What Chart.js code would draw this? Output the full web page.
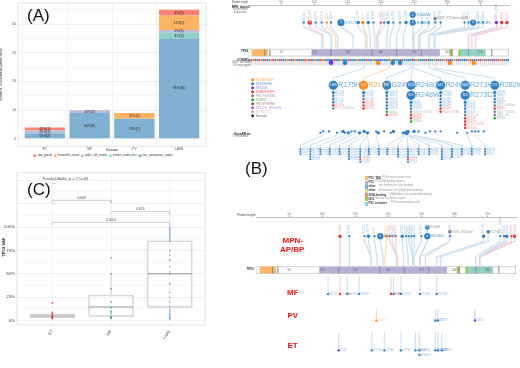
<!DOCTYPE html>
<html>
<head>
<meta charset="utf-8">
<script src="https://cdn.jsdelivr.net/npm/chart.js@4/dist/chart.umd.min.js"></script>
<style>
  html, body { margin: 0; padding: 0; background: #fff; }
  #page { position: relative; width: 520px; height: 368px; overflow: hidden; font-family: "Liberation Sans", Arial, sans-serif; }
  #page canvas { position: absolute; }
  .note { position: absolute; white-space: nowrap; line-height: 1; }
</style>
</head>
<body>
<div id="page"></div>
<script>
// (A) patient counts per disease
const diseases = ['ET', 'MF', 'PV', 't-AML'];
const mutationKinds = ['non_synonymous_codon', 'initiator_codon_loss', 'splice_site_variant', 'frameshift_variant', 'stop_gained'];
const nonSynCounts = [2, 9, 7, 35];
const initiatorCounts = [0, 0, 0, 2];
const spliceCounts = [1, 1, 0, 1];
const frameshiftCounts = [0, 0, 2, 5];
const stopCounts = [1, 0, 0, 2];

// (C) VAF boxplot
const boxQ1 = [3.6, 5, 14.6];
const boxMedian = [5, 14.6, 50];
const boxQ3 = [6.8, 26.7, 84.7];
const boxWhiskerHigh = [9, 50, 100];
const boxWhiskerLow = [2, 3, 2];
const etVaf = [19, 9, 7, 5, 5, 4, 4, 3, 3, 2];
const mfVaf = [67, 50, 34, 20, 14, 10, 8, 5, 3, 3, 3];
const amlVaf = [100, 98, 96, 94, 92, 90, 88, 86, 85, 75, 70, 65, 64, 58, 52, 50, 40, 39, 30, 25, 20, 15, 12, 10, 8, 6, 5, 4, 3, 2, 2];
const bracketFrom = [1, 2, 1];
const bracketTo = [2, 3, 3];
const bracketLevel = [128.5, 116.4, 105];
const bracketP = ['0.049', '0.016', '0.0001'];

// (B) upper track, residue numbers
const topShown = [84, 93, 102, 111, 119, 125, 140, 166, 173, 181, 189, 200, 205, 211, 219, 229, 238, 248, 248, 262, 272, 282, 282, 290, 326, 332, 339, 347, 354, 374, 382, 390];
const topTrue = [111, 113, 125, 126, 132, 135, 158, 177, 179, 184, 191, 194, 196, 209, 214, 224, 234, 248, 248, 250, 257, 258, 259, 273, 273, 273, 273, 280, 282, 332, 337, 343];
const topKinds = 'MFMMNMMMNMMFMMMMMMMMMGMMMMMMMSFF';
const topCounts = [1, 3, 1, 1, 1, 1, 5, 2, 2, 2, 1, 1, 1, 2, 1, 1, 2, 4, 4, 1, 1, 2, 1, 1, 1, 1, 4, 1, 1, 2, 2, 2];
const topLevels = [0, 0, 0, 0, 0, 0, 0, 0, 0, 0, 0, 0, 0, 0, 0, 0, 0, 0, 2, 0, 0, 1, 0, 0, 0, 0, 0, 0, 0, 0, 0, 0];
const topNames = ['R110L', 'C135fs', 'K132N', 'K132E', 'Q136*', 'C135Y', 'V157F', 'H179R', 'R196*', 'Y205C', 'H193R', 'L194fs', 'I195fs', 'Y220C', 'G199E', 'S241F', 'C238Y', 'R248Q', 'R248W', 'G245S', 'N247I', 'R248_P250delinsRMR', 'R249S', 'V272M', 'R273C', 'R273L', 'R273H', 'R280K', 'E285K', 'X307_splice', 'R306*', 'R337C'];

const cosmicSites = [2, 5, 8, 11, 14, 17, 20, 23, 26, 29, 32, 35, 38, 41, 44, 47, 50, 53, 56, 59, 62, 65, 68, 71, 74, 77, 80, 83, 86, 89, 92, 95, 98, 101, 104, 107, 110, 113, 116, 119, 122, 125, 128, 131, 134, 137, 140, 143, 146, 149, 152, 155, 158, 161, 164, 167, 170, 173, 176, 179, 182, 185, 188, 191, 194, 197, 200, 203, 206, 209, 212, 215, 218, 221, 224, 227, 230, 233, 236, 239, 242, 245, 248, 251, 254, 257, 260, 263, 266, 269, 272, 275, 278, 281, 284, 287, 290, 293, 296, 299, 302, 305, 308, 311, 314, 317, 320, 323, 326, 329, 332, 335, 338, 341, 344, 347, 350, 353, 356, 359, 362, 365, 368, 371, 374, 377, 380, 383, 386, 389, 392];
const cosmicKinds = 'FMNFMFNMFMMNFMNMFMMNMFMNMFMMFNMFMNMMFNMMMSMFMMNMMMFMMMNMMMMFMMNMMMSMMMMNMMMMFMMMMMFMNMMMMFMMMNMFMMNFMSMNMFMMSMNFMGMFSNMFMGSFMFNF';
const cosmicHaloSites = [125, 146, 196, 218, 229, 304, 340];
const cosmicHaloKinds = 'SMNMMNN';

const hotNames = ['R175H', 'R213*', 'G245S', 'R248Q', 'R249S', 'R273H', 'R282W'];
const hotShown = [128.5, 174, 209, 245.5, 290, 327, 371.5];
const hotTrue = [175, 213, 245, 248, 249, 273, 282];
const hotCounts = [1489, 922, 802, 1653, 832, 1663, 772];
const secondNames = ['R248W', 'R273C'];
const secondShown = [245.5, 327];
const secondCounts = [829, 829];
const hotLists = [
  ['R175G', 'R175C', 'R175L', 'R175P', 'R175fs', 'R175_E180del'],
  ['R213Q', 'R213L', 'R213G', 'R213fs', 'R213fs', 'R213fs'],
  ['G245D', 'G245C', 'G245V', 'G245R', 'G245A', 'G245E', 'G245=', 'G245fs'],
  ['R248L', 'R248G', 'R248P', 'R248_P250del', 'R248fs', 'R248fs', 'R248='],
  ['R249G', 'R249M', 'R249T', 'R249W', 'R249K', 'R249fs', 'R249_T253fs'],
  ['R273L', 'R273P', 'R273G', 'R273S', 'R273_del', 'R273fs', 'R273fs', 'R273_C275fs', 'R273fs'],
  ['R282G', 'R282Q', 'R282L', 'R282P', 'R282_E285del', 'R282fs', 'R282_T284del', 'R282_del', 'R282=']
];

const oncoSites = [109, 113, 122, 134, 143, 146, 151, 156, 161, 168, 175, 180, 193, 196, 205, 215, 219, 234, 239, 241, 250, 257, 267, 274, 282, 290, 315, 330, 337, 342, 347, 355];
const oncoSizes = [1, 1, 1, 1, 2, 1, 2, 1, 1, 2, 2, 2, 1, 2, 1, 1, 2, 2, 3, 2, 2, 1, 1, 1, 1, 1, 1, 1, 1, 1, 1, 1];
const oncoLevels = [0, 1, 1, 0, 1, 0, 0, 1, 1, 0, 1, 0, 1, 0, 1, 0, 1, 0, 0, 1, 1, 1, 0, 1, 1, 1, 0, 0, 1, 1, 1, 1];
const columnNames = ['P72', 'R110', 'K132', 'C141', 'P151', 'R158', 'Y163', 'R175', 'H179', 'Y205', 'Y220', 'S241', 'G245', 'R248', 'R273', 'R282', 'E286', 'K320', 'R337'];
const columnShown = [79, 94, 109, 123, 138, 152, 169, 182, 197, 210, 226, 241, 257, 273, 292, 307, 322, 337, 357];
const columnTrue = [113, 134, 146, 156, 168, 175, 180, 180, 193, 234, 236, 239, 241, 241, 241, 250, 250, 330, 342];
const columnRows = [3, 5, 3, 3, 3, 5, 6, 3, 3, 3, 4, 6, 3, 3, 5, 4, 3, 3, 3];
const legendKinds = ['NONSENSE', 'MISSENSE', 'SPLICE', 'FRAMESHIFT', 'PROTEINDEL', 'SILENT', 'PROTEININS', 'SPLICE_REGION', 'INTRONIC', 'Somatic'];
const legendCodes = 'NMSFGVBRIK';

// (B) protein domains
const domainStart = [6, 96, 176, 238, 272, 304, 317, 319];
const domainEnd = [29, 288, 181, 242, 277, 307, 319, 357];
const domainColors = ['#f9b767', '#b6b0d6', '#c8dc8c', '#e98a80', '#e98a80', '#9ccb4f', '#9ccb4f', '#8fd2c1'];
const exonEdges = [25, 33, 125, 187, 224, 261, 307, 332, 367];
const rulerTicks = [50, 100, 150, 200, 250, 300, 350];
const bLegendNames = ['P53_TAD', 'P53', 'other', 'other', 'DNA-binding', 'NLS', 'P53_tetramer'];
const bLegendColors = ['#f9b767', '#b6b0d6', '#7fb0dc', '#dcdc9a', '#ee8f85', '#9ccb4f', '#8fd2c1'];
const bLegendNotes = ['P53 transactivation motif', 'P53 DNA-binding domain', 'zinc binding site (zinc binding)', 'dimerization site (polypeptide binding)', 'DNA binding site (nucleotide binding)', 'Nuclear localization signal', 'P53 tetramerization motif'];

// (B) lower tracks
const mpnShown = [127, 141, 164, 170, 179, 188, 197, 202, 206, 211, 221, 227, 231, 235, 239, 250, 259, 259, 293, 293, 344, 351, 369, 375, 379, 386, 391];
const mpnTrue = [127, 141, 174, 174, 183, 192, 195, 213, 213, 213, 223, 230, 237, 237, 239, 239, 248, 248, 256, 248, 273, 279, 332, 338, 338, 338, 338];
const mpnKinds = 'FMMMMMNFMFMMMMMMMMGMMMMSMFF';
const mpnCounts = [2, 1, 1, 2, 1, 4, 2, 1, 1, 1, 2, 1, 1, 1, 1, 1, 4, 3, 2, 1, 2, 2, 1, 1, 2, 1, 2];
const mpnLevels = [0, 0, 0, 0, 0, 0, 0, 0, 0, 0, 0, 0, 0, 0, 0, 0, 0, 2, 1, 0, 0, 1, 0, 0, 0, 0, 0];
const mpnNames = ['R110fs', 'Y163H', 'R175G', 'H179Y', 'I195T', 'V157F', 'R196*', 'L194fs', 'H193R', 'S215fs', 'Y220C', 'Y234C', 'M237I', 'C238Y', 'S241F', 'R158H', 'R248Q', 'R248W', 'G245_M246del', 'G245S', 'R273H', 'R273C', 'X307_splice', 'R337C', 'E339fs', 'E343K', 'D352fs'];
const mfSites = [109, 127, 138, 156, 204, 208, 219, 248, 273];
const mfKinds = 'MFMMFMMMM';
const mfNames = ['R110L', 'T125fs', 'A138V', 'V157F', 'E204fs', 'Y205C', 'Y220C', 'R248Q', 'R273H'];
const pvSites = [182, 271, 275, 331];
const pvKinds = 'NMMS';
const pvNames = ['C182*', 'V272L', 'C275Y', 'X331'];
const etSites = [125, 175, 194, 219, 241, 247, 247, 271, 275, 281];
const etKinds = 'SMMMMMMMMM';
const etNames = ['X125', 'R175H', 'L194R', 'Y220C', 'S241F', 'R248Q', 'R248W', 'V272M', 'C275F', 'D281G'];
const etLevels = [0, 0, 0, 0, 0, 0, 1, 0, 0, 0];

const kindColor = { M: '#2f7fc6', N: '#ff8a1c', F: '#e8333c', S: '#6b36e6', G: '#7f7f7f', V: '#2ca02c', B: '#8a5a44', R: '#9467bd', I: '#b5b5b5', K: '#333333' };
const kindPale = { M: '#cfe1f1', N: '#fbdcb8', F: '#f7cfd3', S: '#dccff2', G: '#dddddd', V: '#c9e6c9', B: '#dccabf', R: '#e0d2ee', I: '#e6e6e6', K: '#cccccc' };
const dotSize = { 1: 1.15, 2: 1.7, 3: 2.3, 4: 3.1, 5: 3.6 };

function lineDs(points, color, width, order) {
  return { data: points, showLine: true, borderColor: color, borderWidth: width, pointRadius: 0, tension: 0, fill: false, order: order || 5 };
}
function rectDs(a, b, y0, y1, color, line) {
  const shape = [{ x: a, y: y0 }, { x: b, y: y0 }, { x: b, y: y1 }, { x: a, y: y1 }, { x: a, y: y0 }];
  return { data: shape, showLine: true, fill: 'shape', backgroundColor: color, borderColor: line || color, borderWidth: 0.6, pointRadius: 0, tension: 0, order: 8 };
}
function dotDs(points, colors, radii, text) {
  return { data: points, showLine: false, backgroundColor: colors, borderWidth: 0, pointRadius: radii, text: text, order: 1 };
}
function textDs(points, text) {
  return { data: points, showLine: false, pointRadius: 0, text: text, order: 1 };
}
function kindOfName(name) {
  if (name.includes('fs') || name.includes('*')) return 'F';
  if (name.includes('=')) return 'V';
  if (name.includes('del')) return 'G';
  return 'M';
}

// draws labels next to the points of a dataset
const markText = {
  id: 'markText',
  afterDatasetsDraw(chart) {
    const ctx = chart.ctx;
    chart.data.datasets.forEach((ds, d) => {
      if (!ds.text) return;
      const t = ds.text;
      chart.getDatasetMeta(d).data.forEach((pt, i) => {
        const label = t.labels[i];
        if (label === '' || label === undefined) return;
        ctx.save();
        ctx.translate(pt.x + (t.dx || 0), pt.y + (t.dy || 0));
        if (t.rotation) ctx.rotate(t.rotation);
        ctx.font = (t.bold ? 'bold ' : '') + t.size + 'px "Liberation Sans", Arial, sans-serif';
        ctx.fillStyle = Array.isArray(t.color) ? t.color[i] : t.color;
        ctx.textAlign = t.align || 'left';
        ctx.textBaseline = 'middle';
        ctx.fillText(label, 0, 0);
        ctx.restore();
      });
    });
  }
};

const panelFrame = {
  id: 'panelFrame',
  afterDraw(chart) {
    const a = chart.chartArea;
    chart.ctx.save();
    chart.ctx.strokeStyle = '#e6e6e6';
    chart.ctx.lineWidth = 1.2;
    chart.ctx.strokeRect(a.left, a.top, a.right - a.left, a.bottom - a.top);
    chart.ctx.restore();
  }
};

const barLabels = {
  id: 'barLabels',
  afterDatasetsDraw(chart) {
    const ctx = chart.ctx;
    ctx.save();
    ctx.font = '3.4px "Liberation Sans", Arial, sans-serif';
    ctx.fillStyle = '#222';
    ctx.textAlign = 'center';
    ctx.textBaseline = 'middle';
    chart.data.datasets.forEach((ds, d) => {
      chart.getDatasetMeta(d).data.forEach((bar, i) => {
        const n = ds.data[i].y;
        if (!n) return;
        const total = chart.data.datasets.reduce((sum, s) => sum + s.data[i].y, 0);
        ctx.fillText(Math.round(n / total * 100) + '%(' + n + ')', bar.x, (bar.y + bar.base) / 2);
      });
    });
    ctx.restore();
  }
};

function addCanvas(left, top, w, h) {
  const c = document.createElement('canvas');
  c.width = w;
  c.height = h;
  c.style.left = left + 'px';
  c.style.top = top + 'px';
  c.style.width = w + 'px';
  c.style.height = h + 'px';
  document.getElementById('page').appendChild(c);
  return c;
}

function addNote(text, x, y, size, color, bold, rotate) {
  const n = document.createElement('div');
  n.className = 'note';
  n.textContent = text;
  n.style.left = x + 'px';
  n.style.top = (y - size / 2) + 'px';
  n.style.fontSize = size + 'px';
  n.style.color = color;
  if (bold) n.style.fontWeight = 'bold';
  if (rotate) {
    n.style.transform = 'translate(-50%,0) rotate(' + rotate + 'deg)';
  }
  document.getElementById('page').appendChild(n);
}

const STATIC = { responsive: false, animation: false, events: [] };
const NO_PLUGINS = { legend: { display: false }, tooltip: { enabled: false } };

// ---- panel A ----
const barColors = ['#80b1d3', '#8dd3c7', '#bebada', '#fdb462', '#fb8072'];
const barSeries = [nonSynCounts, initiatorCounts, spliceCounts, frameshiftCounts, stopCounts];
new Chart(addCanvas(0, 0, 230, 167), {
  type: 'bar',
  data: {
    datasets: mutationKinds.map((name, k) => ({
      label: name,
      data: barSeries[k].map((n, i) => ({ x: i + 1, y: n })),
      backgroundColor: barColors[k],
      barPercentage: 0.9,
      categoryPercentage: 1
    }))
  },
  options: {
    ...STATIC,
    layout: { padding: { top: 2, right: 24, left: 0, bottom: 0 } },
    plugins: {
      tooltip: { enabled: false },
      legend: {
        position: 'bottom',
        reverse: true,
        labels: { boxWidth: 2.5, boxHeight: 2.5, padding: 2, color: '#333', font: { size: 2.7, family: '"Liberation Sans"' } }
      }
    },
    scales: {
      x: {
        type: 'linear', stacked: true, min: 0.4, max: 4.6, offset: false,
        afterBuildTicks: s => { s.ticks = diseases.map((d, i) => ({ value: i + 1 })); },
        ticks: { callback: v => diseases[v - 1], color: '#555', font: { size: 3.3 }, padding: 0, maxRotation: 0 },
        grid: { color: '#f2f2f2', tickLength: 1 },
        border: { display: false },
        title: { display: true, text: 'Disease', color: '#222', font: { size: 3.4 }, padding: 0 },
        afterFit: s => { s.height = 6; }
      },
      y: {
        stacked: true, min: -2.59, max: 47.4,
        afterBuildTicks: s => { s.ticks = [0, 5, 10, 15, 20, 25, 30, 35, 40, 45].map(v => ({ value: v })); },
        ticks: { callback: v => (v % 10 === 0 ? v : ''), color: '#555', font: { size: 3.3 }, padding: 1 },
        grid: { color: c => (c.tick && c.tick.value % 10 === 0 ? '#efefef' : '#f7f7f7'), tickLength: 1 },
        border: { display: false },
        title: { display: true, text: 'Number of TP53 Mutations (patient count)', color: '#222', font: { size: 2.8 }, padding: 0 },
        afterFit: s => { s.width = 18; }
      }
    }
  },
  plugins: [barLabels, panelFrame]
});

// ---- panel C ----
const boxSets = [];
[0, 1, 2].forEach(i => {
  const c = i + 1;
  boxSets.push(lineDs([{ x: c - 0.375, y: boxQ1[i] }, { x: c + 0.375, y: boxQ1[i] }, { x: c + 0.375, y: boxQ3[i] }, { x: c - 0.375, y: boxQ3[i] }, { x: c - 0.375, y: boxQ1[i] }], '#d4d4d4', 1.3));
  boxSets.push(lineDs([{ x: c - 0.375, y: boxMedian[i] }, { x: c + 0.375, y: boxMedian[i] }], '#8a8a8a', 0.9, 4));
  boxSets.push(lineDs([{ x: c, y: boxQ3[i] }, { x: c, y: boxWhiskerHigh[i] }], '#b0b0b0', 0.6));
  boxSets.push(lineDs([{ x: c, y: boxWhiskerLow[i] }, { x: c, y: boxQ1[i] }], '#d0d0d0', 0.6));
});
[[etVaf, '#e8333c'], [mfVaf, '#2ca25f'], [amlVaf, '#7aa5e6']].forEach(([vals, color], i) => {
  boxSets.push(dotDs(vals.map(v => ({ x: i + 1, y: v })), color, 0.8));
});
bracketFrom.forEach((from, i) => {
  const y = bracketLevel[i];
  boxSets.push(lineDs([{ x: from, y: y - 3 }, { x: from, y: y }, { x: bracketTo[i], y: y }, { x: bracketTo[i], y: y - 3 }], '#c4c4c4', 0.8));
  boxSets.push(textDs([{ x: (from + bracketTo[i]) / 2, y: y }], { labels: [bracketP[i]], size: 3.4, color: '#444', align: 'center', dy: -2.3 }));
});
new Chart(addCanvas(0, 168, 230, 200), {
  type: 'scatter',
  data: { datasets: boxSets },
  options: {
    ...STATIC,
    layout: { padding: { top: 4.7, right: 25, left: 0, bottom: 0 } },
    plugins: NO_PLUGINS,
    scales: {
      x: {
        type: 'linear', min: 0.4, max: 3.6,
        afterBuildTicks: s => { s.ticks = [1, 2, 3].map(v => ({ value: v })); },
        ticks: { callback: v => ['ET', 'MF', 't-AML'][v - 1], color: '#444', font: { size: 4 }, minRotation: 55, maxRotation: 55, padding: 2 },
        grid: { color: '#f4f4f4', tickLength: 2 },
        border: { display: false },
        afterFit: s => { s.height = 43; }
      },
      y: {
        min: -4.6, max: 158,
        afterBuildTicks: s => { s.ticks = [0, 12.5, 25, 37.5, 50, 62.5, 75, 87.5, 100, 112.5, 125, 137.5, 150].map(v => ({ value: v })); },
        ticks: { callback: v => (v % 25 === 0 && v <= 100 ? v + '%' : ''), color: '#444', font: { size: 4.4 }, padding: 1 },
        grid: { color: c => (c.tick && c.tick.value % 25 === 0 ? '#f0f0f0' : '#f8f8f8'), tickLength: 1 },
        border: { display: false },
        afterFit: s => { s.width = 17; }
      }
    }
  },
  plugins: [markText, panelFrame]
});

// ---- panel B, shared parts ----
function lollipopSets(shown, trueSites, kinds, counts, levels, names, rows) {
  const sets = [];
  shown.forEach((x, i) => {
    const k = kinds[i];
    const y = rows.dot - levels[i] * rows.levelStep;
    sets.push(lineDs([{ x: x, y: y }, { x: x, y: rows.elbowA }, { x: trueSites[i], y: rows.elbowB }, { x: trueSites[i], y: rows.domain }], kindPale[k], 1.3));
    const big = counts[i] >= 4;
    const label = big || levels[i] ? names[i] : '';
    sets.push(dotDs([{ x: x, y: y }], kindColor[k], dotSize[counts[i]], { labels: [counts[i] >= 3 ? String(counts[i]) : ''], size: 3, color: '#fff', align: 'center' }));
    if (label) {
      sets.push(textDs([{ x: x, y: y }], { labels: [label], size: big ? 4.2 : 3, color: big ? '#5f9bd1' : '#999', dx: dotSize[counts[i]] + 0.6 }));
    } else {
      sets.push(textDs([{ x: x, y: y }], { labels: [names[i]], size: 3, color: kindColor[k] + '77', rotation: -Math.PI / 2, dy: -dotSize[counts[i]] - 1 }));
    }
  });
  return sets;
}
function proteinSets(y0, y1) {
  const sets = [rectDs(0, 393, y0, y1, '#ffffff', '#b5b5b5')];
  domainStart.forEach((a, i) => sets.push({ ...rectDs(a, domainEnd[i], y0 + 0.4, y1 - 0.4, domainColors[i]), order: 7 }));
  exonEdges.forEach(x => sets.push(lineDs([{ x: x, y: y0 }, { x: x, y: y1 }], '#8c8c8c', 0.5, 6)));
  sets.push(textDs(rulerTicks.map(v => ({ x: v, y: (y0 + y1) / 2 })), { labels: rulerTicks.map(String), size: 2.8, color: '#666', align: 'center' }));
  return sets;
}
function rulerAxis() {
  return {
    type: 'linear', position: 'top', min: 0, max: 393,
    afterBuildTicks: s => { s.ticks = rulerTicks.map(v => ({ value: v })); },
    ticks: { color: '#777', font: { size: 3 }, padding: 0, maxRotation: 0 },
    grid: { drawOnChartArea: false, tickLength: 1.5, color: '#aaa' },
    border: { color: '#bcbcbc', width: 0.9 },
    afterFit: s => { s.height = 5; }
  };
}

// ---- panel B, top half ----
const topSets = lollipopSets(topShown, topTrue, topKinds, topCounts, topLevels, topNames, { dot: 23, levelStep: 4, elbowA: 28, elbowB: 36, domain: 50 });
topSets.push(...proteinSets(50.5, 57.5));

cosmicSites.forEach((x, i) => {
  const k = cosmicKinds[i] || 'M';
  topSets.push(lineDs([{ x: x, y: 61.5 }, { x: x, y: 67 }], kindPale[k], 0.8, 6));
});
topSets.push(dotDs(cosmicSites.map(x => ({ x: x, y: 61.5 })), cosmicSites.map((x, i) => kindColor[cosmicKinds[i] || 'M']), 1));
topSets.push(dotDs(cosmicHaloSites.map(x => ({ x: x, y: 64.5 })), cosmicHaloSites.map((x, i) => kindColor[cosmicHaloKinds[i]]), 2.3));

hotShown.forEach((x, i) => {
  const k = hotNames[i].includes('*') ? 'N' : 'M';
  topSets.push(lineDs([{ x: hotTrue[i], y: 57.5 }, { x: hotTrue[i], y: 70 }, { x: x, y: 80 }, { x: x, y: 88 }], kindPale[k], 1.1));
  topSets.push(dotDs([{ x: x, y: 87.5 }], kindColor[k], 4.5, { labels: [String(hotCounts[i])], size: 3, color: '#fff', align: 'center' }));
  topSets.push(textDs([{ x: x, y: 87.5 }], { labels: [hotNames[i]], size: 7.2, color: k === 'N' ? '#f8ae62' : '#6aa3d5', dx: 4.8 }));
  const list = hotLists[i];
  const hasSecond = secondShown.includes(x);
  const start = hasSecond ? 105 : 95;
  const step = 3.3;
  const listPoints = list.map((n, j) => ({ x: x, y: start + j * step }));
  topSets.push(lineDs([{ x: x, y: 87 }, listPoints[listPoints.length - 1]], '#c6dbef', 0.8));
  topSets.push(dotDs(listPoints, list.map(n => kindColor[kindOfName(n)]), list.map((n, j) => (j === 0 ? 1.6 : 1.2)), { labels: list, size: 2.8, color: list.map(n => kindColor[kindOfName(n)] + '88'), dx: 2 }));
});
secondShown.forEach((x, i) => {
  topSets.push(dotDs([{ x: x, y: 98 }], kindColor.M, 4.5, { labels: [String(secondCounts[i])], size: 3, color: '#fff', align: 'center' }));
  topSets.push(textDs([{ x: x, y: 98 }], { labels: [secondNames[i]], size: 7.2, color: '#6aa3d5', dx: 4.8 }));
});

// mutation type legend of the COSMIC track
topSets.push(dotDs(legendKinds.map((n, i) => ({ x: 7, y: 82 + i * 4.1 })), legendKinds.map((n, i) => kindColor[legendCodes[i]]), 1.5, {
  labels: legendKinds, size: 3.2, color: legendKinds.map((n, i) => kindColor[legendCodes[i]] + 'bb'), dx: 3
}));

// OncoKB dots and the variant columns below them
topSets.push(dotDs(oncoSites.map((x, i) => ({ x: x, y: 136.5 - oncoLevels[i] * 1.5 })), '#2f7fc6', oncoSizes.map(s => dotSize[s])));
columnShown.forEach((x, i) => {
  topSets.push(lineDs([{ x: columnTrue[i], y: 139 }, { x: x, y: 149 }, { x: x, y: 153 }], '#c6dbef', 0.9));
  const pts = [];
  const labels = [];
  const colors = [];
  const suffix = 'HCLGSP';
  for (let j = 0; j < columnRows[i]; j++) {
    pts.push({ x: x, y: 153.3 + j * 2.6 });
    labels.push(columnNames[i] + suffix[j]);
    colors.push(j === 4 && columnRows[i] === 6 ? kindColor.F : kindColor.M);
  }
  topSets.push(lineDs([pts[0], pts[pts.length - 1]], '#c6dbef', 0.7));
  topSets.push(dotDs(pts, colors, 1.05, { labels: labels, size: 2.6, color: colors.map(c => c + '77'), dx: 1.7 }));
});

new Chart(addCanvas(230, 0, 290, 168), {
  type: 'scatter',
  data: { datasets: topSets },
  options: {
    ...STATIC,
    layout: { padding: { left: 18, right: 11, top: 0, bottom: 0 } },
    plugins: NO_PLUGINS,
    scales: { x: rulerAxis(), y: { display: false, reverse: true, min: 5, max: 168 } }
  },
  plugins: [markText]
});

// ---- panel B, bottom half ----
const lowSets = lollipopSets(mpnShown, mpnTrue, mpnKinds, mpnCounts, mpnLevels, mpnNames, { dot: 236.7, levelStep: 4.5, elbowA: 242, elbowB: 258, domain: 268 });
lowSets.push(...proteinSets(268, 275));

function trackSets(sites, kinds, names, levels, dotY, stemTop, stemBottom) {
  const sets = [];
  sites.forEach((x, i) => {
    const k = kinds[i];
    const y = dotY + (levels ? levels[i] * 4.6 : 0);
    sets.push(lineDs([{ x: x, y: stemTop }, { x: x, y: stemBottom }], kindPale[k], 1.1));
    sets.push(dotDs([{ x: x, y: y }], kindColor[k], 1.2, { labels: [names[i]], size: 2.8, color: kindColor[k] + '88', dx: 1.8 }));
  });
  return sets;
}
lowSets.push(...trackSets(mfSites, mfKinds, mfNames, null, 296, 277.5, 297));
lowSets.push(...trackSets(pvSites, pvKinds, pvNames, null, 323.3, 311.5, 323.3));
lowSets.push(...trackSets(etSites, etKinds, etNames, etLevels, 354, 335, 356));

new Chart(addCanvas(230, 212, 290, 156), {
  type: 'scatter',
  data: { datasets: lowSets },
  options: {
    ...STATIC,
    layout: { padding: { left: 26, right: 1, top: 0, bottom: 0 } },
    plugins: NO_PLUGINS,
    scales: { x: rulerAxis(), y: { display: false, reverse: true, min: 217, max: 368 } }
  },
  plugins: [markText]
});

// ---- text around the charts ----
addNote('(A)', 27, 15, 17, '#111');
addNote('(B)', 245, 168, 17, '#111');
addNote('(C)', 27, 189, 17, '#111');
addNote('Kruskal-Wallis, p = 7.5e-06', 43, 180, 3.8, '#444');
addNote('—', 52, 183.4, 3.8, '#555');
addNote('TP53 VAF', 4, 247, 4.2, '#222', true, -90);

addNote('Protein length', 232, 3.4, 2.6, '#444');
addNote('MPN_data.txt', 232, 7.3, 2.8, '#222', true);
addNote('89 mutations', 233, 10.3, 2.6, '#666');
addNote('6 diseases', 234, 13.3, 2.6, '#666');
addNote('TP53', 241, 51, 3, '#222', true);
addNote('COSMIC', 237, 60, 3, '#222', true);
addNote('29161 mutations', 232, 63, 2.6, '#666');
addNote('41 tissue types', 233, 66, 2.6, '#666');
addNote('OncoKB.txt', 234, 134.5, 3, '#222', true);
addNote('779 mutations', 232, 137.5, 2.6, '#666');
addNote('Protein length', 237, 215.5, 3, '#444');
addNote('TP53', 246.5, 269, 3, '#222', true);

addNote('MPN-', 282.5, 241, 8, '#f01414', true);
addNote('AP/BP', 280, 250, 8, '#f01414', true);
addNote('MF', 287, 293, 8, '#f01414', true);
addNote('PV', 287.5, 316, 8, '#f01414', true);
addNote('ET', 287.5, 346, 8, '#f01414', true);

bLegendNames.forEach((name, i) => {
  const y = 178.3 + i * 4.2;
  const box = document.createElement('div');
  box.style.cssText = 'position:absolute;left:364.5px;width:3px;height:4px;top:' + (y - 2) + 'px;background:' + bLegendColors[i];
  document.getElementById('page').appendChild(box);
  addNote(name, 368.5, y, 2.9, '#333', true);
  addNote(bLegendNotes[i], 368.5 + name.length * 1.75 + 1.5, y, 2.6, '#999');
});
</script>
</body>
</html>
